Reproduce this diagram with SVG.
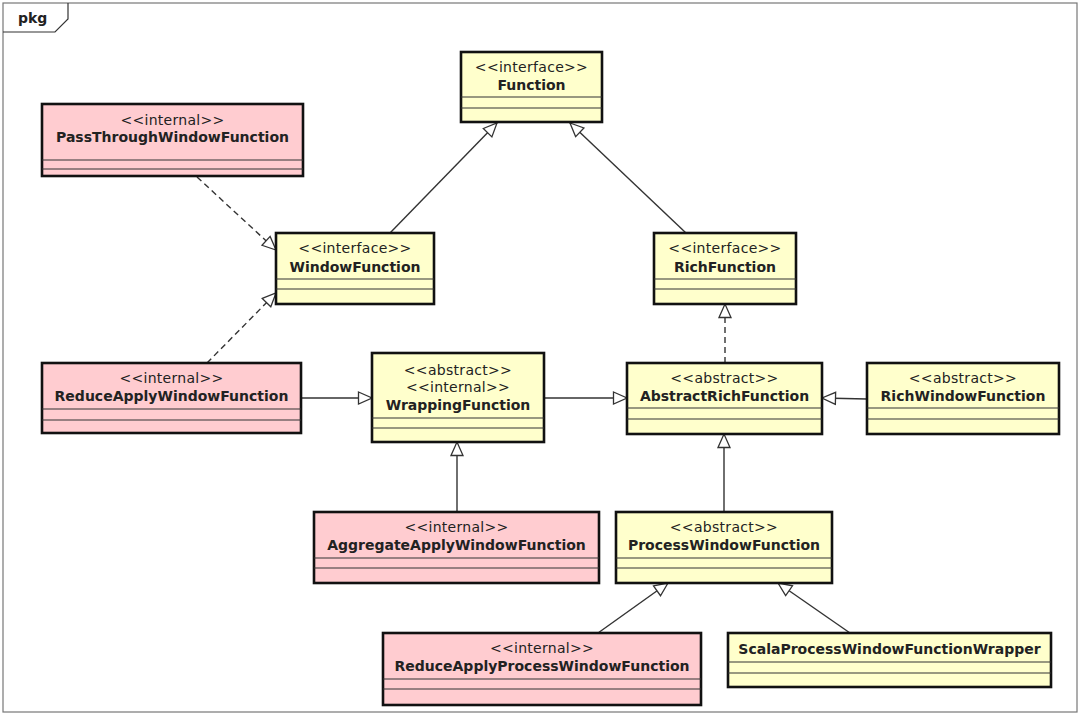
<svg xmlns="http://www.w3.org/2000/svg" width="1080" height="715" viewBox="0 0 1080 715">
<style>
.y{fill:#ffffcc;stroke:#111;stroke-width:2.6}
.p{fill:#ffccd0;stroke:#111;stroke-width:2.6}
.sep{stroke:#333;stroke-width:1.2}
.st{font-family:"DejaVu Sans",sans-serif;font-size:14px;fill:#222;text-anchor:middle;letter-spacing:0.3px}
.nm{font-family:"DejaVu Sans",sans-serif;font-size:14px;font-weight:bold;fill:#222;text-anchor:middle}
.c{fill:none;stroke:#333;stroke-width:1.4}
.d{stroke-dasharray:6 4}
</style>
<defs>
<marker id="tri" markerUnits="userSpaceOnUse" viewBox="0 0 15 14" refX="14.5" refY="7" markerWidth="15" markerHeight="14" orient="auto" overflow="visible">
<path d="M1,1 L14.5,7 L1,13 Z" fill="#fff" stroke="#333" stroke-width="1.3" stroke-dasharray="none"/>
</marker>
</defs>
<rect width="1080" height="715" fill="#fff"/>
<g id="frame">
<rect x="3" y="3" width="1074" height="709" fill="none" stroke="#777" stroke-width="1.2"/>
<path d="M3,32 H55 L68,19 V3" fill="none" stroke="#333" stroke-width="1.2"/>
<text x="18" y="23" font-family="DejaVu Sans,sans-serif" font-size="14" font-weight="bold" fill="#222">pkg</text>
</g>
<g id="connectors">
<path class="c" d="M390,233 L497,123" marker-end="url(#tri)"/>
<path class="c" d="M686,233 L570,123" marker-end="url(#tri)"/>
<path class="c d" d="M197,177 L276,250" marker-end="url(#tri)"/>
<path class="c d" d="M207,363 L276,293" marker-end="url(#tri)"/>
<path class="c" d="M301,398 L372,398" marker-end="url(#tri)"/>
<path class="c" d="M544,398 L627,398" marker-end="url(#tri)"/>
<path class="c d" d="M725,363 L725,304" marker-end="url(#tri)"/>
<path class="c" d="M867,399 L822,398" marker-end="url(#tri)"/>
<path class="c" d="M457,512 L457,442" marker-end="url(#tri)"/>
<path class="c" d="M724,512 L724,434" marker-end="url(#tri)"/>
<path class="c" d="M598,633 L668,583" marker-end="url(#tri)"/>
<path class="c" d="M850,633 L778,583" marker-end="url(#tri)"/>
</g>
<g id="Function">
<rect class="y" x="461" y="52" width="141" height="70"/>
<line class="sep" x1="461" y1="97" x2="602" y2="97"/>
<line class="sep" x1="461" y1="108" x2="602" y2="108"/>
<text class="st" x="531.5" y="72">&lt;&lt;interface&gt;&gt;</text>
<text class="nm" x="531.5" y="90">Function</text>
</g>
<g id="PassThroughWindowFunction">
<rect class="p" x="42" y="104" width="261" height="72"/>
<line class="sep" x1="42" y1="160" x2="303" y2="160"/>
<line class="sep" x1="42" y1="169" x2="303" y2="169"/>
<text class="st" x="172.5" y="125">&lt;&lt;internal&gt;&gt;</text>
<text class="nm" x="172.5" y="142">PassThroughWindowFunction</text>
</g>
<g id="WindowFunction">
<rect class="y" x="276" y="233" width="158" height="71"/>
<line class="sep" x1="276" y1="279" x2="434" y2="279"/>
<line class="sep" x1="276" y1="289" x2="434" y2="289"/>
<text class="st" x="355" y="253">&lt;&lt;interface&gt;&gt;</text>
<text class="nm" x="355" y="272">WindowFunction</text>
</g>
<g id="RichFunction">
<rect class="y" x="654" y="233" width="142" height="71"/>
<line class="sep" x1="654" y1="279" x2="796" y2="279"/>
<line class="sep" x1="654" y1="289" x2="796" y2="289"/>
<text class="st" x="725" y="253">&lt;&lt;interface&gt;&gt;</text>
<text class="nm" x="725" y="272">RichFunction</text>
</g>
<g id="ReduceApplyWindowFunction">
<rect class="p" x="42" y="363" width="259" height="70"/>
<line class="sep" x1="42" y1="409" x2="301" y2="409"/>
<line class="sep" x1="42" y1="420" x2="301" y2="420"/>
<text class="st" x="171.5" y="383">&lt;&lt;internal&gt;&gt;</text>
<text class="nm" x="171.5" y="401">ReduceApplyWindowFunction</text>
</g>
<g id="WrappingFunction">
<rect class="y" x="372" y="353" width="172" height="89"/>
<line class="sep" x1="372" y1="418" x2="544" y2="418"/>
<line class="sep" x1="372" y1="428" x2="544" y2="428"/>
<text class="st" x="458" y="375">&lt;&lt;abstract&gt;&gt;</text>
<text class="st" x="458" y="392">&lt;&lt;internal&gt;&gt;</text>
<text class="nm" x="458" y="410">WrappingFunction</text>
</g>
<g id="AbstractRichFunction">
<rect class="y" x="627" y="363" width="195" height="71"/>
<line class="sep" x1="627" y1="408" x2="822" y2="408"/>
<line class="sep" x1="627" y1="419" x2="822" y2="419"/>
<text class="st" x="724.5" y="383">&lt;&lt;abstract&gt;&gt;</text>
<text class="nm" x="724.5" y="401">AbstractRichFunction</text>
</g>
<g id="RichWindowFunction">
<rect class="y" x="867" y="363" width="192" height="71"/>
<line class="sep" x1="867" y1="408" x2="1059" y2="408"/>
<line class="sep" x1="867" y1="419" x2="1059" y2="419"/>
<text class="st" x="963" y="383">&lt;&lt;abstract&gt;&gt;</text>
<text class="nm" x="963" y="401">RichWindowFunction</text>
</g>
<g id="AggregateApplyWindowFunction">
<rect class="p" x="314" y="512" width="285" height="71"/>
<line class="sep" x1="314" y1="558" x2="599" y2="558"/>
<line class="sep" x1="314" y1="568" x2="599" y2="568"/>
<text class="st" x="456.5" y="532">&lt;&lt;internal&gt;&gt;</text>
<text class="nm" x="456.5" y="550">AggregateApplyWindowFunction</text>
</g>
<g id="ProcessWindowFunction">
<rect class="y" x="616" y="512" width="216" height="71"/>
<line class="sep" x1="616" y1="558" x2="832" y2="558"/>
<line class="sep" x1="616" y1="568" x2="832" y2="568"/>
<text class="st" x="724" y="532">&lt;&lt;abstract&gt;&gt;</text>
<text class="nm" x="724" y="550">ProcessWindowFunction</text>
</g>
<g id="ReduceApplyProcessWindowFunction">
<rect class="p" x="383" y="633" width="318" height="72"/>
<line class="sep" x1="383" y1="679" x2="701" y2="679"/>
<line class="sep" x1="383" y1="689" x2="701" y2="689"/>
<text class="st" x="542" y="653">&lt;&lt;internal&gt;&gt;</text>
<text class="nm" x="542" y="671">ReduceApplyProcessWindowFunction</text>
</g>
<g id="ScalaProcessWindowFunctionWrapper">
<rect class="y" x="728" y="633" width="323" height="54"/>
<line class="sep" x1="728" y1="662" x2="1051" y2="662"/>
<line class="sep" x1="728" y1="673" x2="1051" y2="673"/>
<text class="nm" x="889.5" y="654">ScalaProcessWindowFunctionWrapper</text>
</g>
</svg>
